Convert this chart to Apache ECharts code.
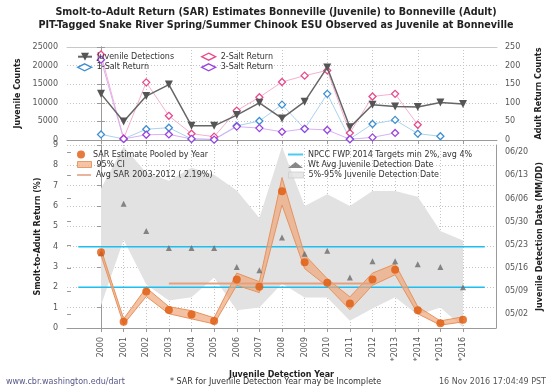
<!DOCTYPE html>
<html><head><meta charset="utf-8">
<script src="https://cdn.jsdelivr.net/npm/echarts@6/dist/echarts.min.js"></script>
<style>html,body{margin:0;padding:0;background:#fff}#c{width:552px;height:390px}</style>
</head><body><div id="c"></div>
<script>
// ---------------- DATA ----------------
const years = ['2000','2001','2002','2003','2004','2005','2006','2007','2008','2009','2010','2011','2012','*2013','*2014','*2015','*2016'];
// top panel
const juvenileDetections = [12400, 5000, 11800, 14900, 3800, 3800, 6700, 10000, 5800, 10300, 19500, 3400, 9500, 9000, 8900, 10100, 9700];
const salt1Return = [15, 3, 29, 33, 3, 2, 38, 51, 95, 30, 124, 3, 43, 54, 17, 10, null];
const salt2Return = [230, 4, 155, 65, 17, 9, 79, 115, 156, 173, 187, 19, 117, 124, 41, null, null];
const salt3Return = [216, 3, 14, 15, 3, 1, 36, 32, 22, 30, 27, 2, 7, 19, null, null, null];
// bottom panel (SAR %)
const sarEstimate = [3.72, 0.31, 1.79, 0.89, 0.67, 0.34, 2.39, 2.03, 6.72, 3.23, 2.23, 1.21, 2.38, 2.87, 0.87, 0.23, 0.41];
const sarCiLow  = [3.58, 0.18, 1.55, 0.70, 0.45, 0.20, 2.10, 1.74, 6.05, 2.92, 2.05, 0.90, 2.10, 2.62, 0.70, 0.14, 0.30];
const sarCiHigh = [3.88, 0.45, 1.98, 1.05, 0.85, 0.50, 2.70, 2.28, 7.40, 3.60, 2.42, 1.53, 2.70, 3.15, 1.05, 0.35, 0.55];
const avgSar = 2.19;
const avgSarYears = ['2003', '2012'];
const npccTargets = [2, 4];
const npccSpan = [-1, 17];
// detection dates as day-of-year (Jan 1 = 1, non-leap)
const wtAvgDetDate = [140.4, 155.4, 147.2, 142.0, 142.0, 142.0, 136.3, 135.3, 145.2, 140.3, 141.2, 133.1, 138.0, 138.0, 137.1, 136.3, 130.1];
const det5pct  = [124.6, 144.5, 131.0, 126.1, 127.1, 133.1, 123.2, 124.0, 131.3, 127.0, 127.0, 120.0, 123.7, 127.1, 121.7, 124.0, 118.0];
const det95pct = [160.0, 172.7, 164.8, 162.4, 166.3, 164.2, 159.4, 151.1, 172.7, 154.7, 158.3, 154.7, 159.3, 159.3, 157.5, 147.2, 144.3];
const dateTickLabels = ['05/02','05/09','05/16','05/23','05/30','06/06','06/13','06/20'];
const dateRange = ['04/28', '06/22'];
const juvTicks = [0, 25000, 5000];
const adultTicks = [0, 250, 50];
const sarTicks = [0, 9, 1];

// ---------------- HELPERS ----------------
const MD = [31,28,31,30,31,30,31,31,30,31,30,31];
function doy(s){ const [m,d] = s.split('/').map(Number); let n = d; for(let i=0;i<m-1;i++) n += MD[i]; return n; }
function mmdd(v){ let n = Math.round(v); let m = 0; while(n > MD[m]){ n -= MD[m]; m++; } return String(m+1).padStart(2,'0') + '/' + String(n).padStart(2,'0'); }

const F = 'DejaVu Sans';
const axisCol = '#9a9a9a';
const gridLine = {show:true, lineStyle:{color:'#c4c4c4', type:[1,2], width:1}};
const lbl = {fontFamily:F, fontSize:8, color:'#555'};
const nameSt = {fontFamily:F, fontSize:8, fontWeight:'bold', color:'#222'};
const plain = v => String(v);

const dateMin = doy(dateRange[0]) - 0.2, dateMax = doy(dateRange[1]) + 0.2;
const L = 67, R = 55, catL = 101, catR = 89;
const topT = 47, topH = 93, botT = 145, botH = 183;
const pxPerDay = botH / (dateMax - dateMin);
const dFirst = doy(dateTickLabels[0]), dLast = doy(dateTickLabels[dateTickLabels.length-1]);
const cT = botT + (dateMax - dLast) * pxPerDay;
const cH = (dLast - dFirst) * pxPerDay;

const i0 = years.indexOf(avgSarYears[0]), i1 = years.indexOf(avgSarYears[1]);
const avgLine = years.map((y,i) => (i >= i0 && i <= i1) ? avgSar : null);
const ciDiff = sarCiHigh.map((v,i) => v - sarCiLow[i]);
const detDiff = det95pct.map((v,i) => v - det5pct[i]);

const hidY = (g, min, max) => ({type:'value', gridIndex:g, min, max, show:false});

function leg(name, left, cy, w, h, extra, keep){
  return {
    data:[Object.assign({name}, extra||{})], left, top: cy - 5, orient:'horizontal',
    itemWidth:w, itemHeight:h, itemGap:0, padding:0, selectedMode:false,
    symbolKeepAspect: keep !== false,
    textStyle:{fontFamily:F, fontSize:8, color:'#333', lineHeight:10}
  };
}
// empty series that only carry a legend entry
const legendOnly = (name) => ({name, type:'scatter', xAxisIndex:4, yAxisIndex:6, data:[]});
const titleSt = {fontFamily:F, fontSize:9.6, fontWeight:'bold', color:'#222', lineHeight:12};

const option = {
  animation:false,
  backgroundColor:'#fff',
  title:[
    {text:'Smolt-to-Adult Return (SAR) Estimates Bonneville (Juvenile) to Bonneville (Adult)', left:'center', top:6.3, padding:0, textStyle:titleSt},
    {text:'PIT-Tagged Snake River Spring/Summer Chinook ESU Observed as Juvenile at Bonneville', left:'center', top:19, padding:0, textStyle:titleSt}
  ],
  graphic:[
    {type:'text', left:6, top:378, style:{text:'www.cbr.washington.edu/dart', font:'8px "DejaVu Sans"', fill:'#56568a'}},
    {type:'text', left:170, top:378, style:{text:'* SAR for Juvenile Detection Year may be Incomplete', font:'8px "DejaVu Sans"', fill:'#333'}},
    {type:'text', right:6, top:378, style:{text:'16 Nov 2016 17:04:49 PST', font:'8px "DejaVu Sans"', fill:'#555'}}
  ],
  legend:[
    leg('Juvenile Detections', 77, 56.7, 14, 10, {itemStyle:{color:'#555'}}),
    leg('1-Salt Return', 77, 67.3, 14, 7, {icon:'diamond', itemStyle:{color:'#fff', borderColor:'#3d8fd1', borderWidth:1.3}}),
    leg('2-Salt Return', 201, 56.7, 14, 7, {icon:'diamond', itemStyle:{color:'#fff', borderColor:'#e84a8c', borderWidth:1.3}}),
    leg('3-Salt Return', 201, 67.3, 14, 7, {icon:'diamond', itemStyle:{color:'#fff', borderColor:'#9a44e0', borderWidth:1.3}}),
    leg('SAR Estimate Pooled by Year', 77, 154.5, 14, 8, {icon:'circle', itemStyle:{color:'#e05a0c'}}),
    leg('95% CI', 77, 164.5, 14, 6, {icon:'rect', itemStyle:{color:'#f2b48e', borderColor:'#e08a50', borderWidth:1}}, false),
    leg('Avg SAR 2003-2012 ( 2.19%)', 77, 175, 14, 2, {icon:'rect', itemStyle:{color:'#e4a182', borderWidth:0}}, false),
    leg('NPCC FWP 2014 Targets min 2%, avg 4%', 288, 154.5, 15, 2, {icon:'rect', itemStyle:{color:'#1cbff0', borderWidth:0}}, false),
    leg('Wt Avg Juvenile Detection Date', 288, 165, 15, 6, {icon:'triangle', itemStyle:{color:'#6b6b6b'}}),
    leg('5%-95% Juvenile Detection Date', 288, 175, 15, 6, {icon:'rect', itemStyle:{color:'#e2e2e2', borderColor:'#d0d0d0', borderWidth:1}}, false)
  ],
  grid:[
    {left:L, right:R, top:topT, height:topH},
    {left:catL, right:catR, top:topT, height:topH},
    {left:L, right:R, top:botT, height:botH},
    {left:catL, right:catR, top:botT, height:botH},
    {left:L, right:R, top:cT, height:cH}
  ],
  xAxis:[
    {type:'value', gridIndex:0, min:-1.5, max:17.5, axisLine:{show:true, onZero:false, lineStyle:{color:axisCol}}, axisTick:{show:false}, axisLabel:{show:false}, splitLine:{show:false}},
    {type:'value', gridIndex:0, position:'top', min:-1.5, max:17.5, axisLine:{show:true, onZero:false, lineStyle:{color:'#c8c8c8'}}, axisTick:{show:false}, axisLabel:{show:false}, splitLine:{show:false}},
    {type:'category', gridIndex:1, data:years, boundaryGap:false, axisLine:{show:false}, axisTick:{show:true, length:4, lineStyle:{color:axisCol}}, axisLabel:{show:false}, splitLine:gridLine},
    {type:'value', gridIndex:2, min:-1.5, max:17.5, axisLine:{show:true, onZero:false, lineStyle:{color:axisCol}}, axisTick:{show:false}, axisLabel:{show:false}, splitLine:{show:false},
      name:'Juvenile Detection Year', nameLocation:'middle', nameGap:42.5, nameTextStyle:nameSt},
    {type:'category', gridIndex:3, data:years, boundaryGap:false, axisLine:{show:false}, axisTick:{show:true, length:4, lineStyle:{color:axisCol}},
      axisLabel:Object.assign({rotate:90, margin:9, interval:0}, lbl), splitLine:gridLine},
    {type:'value', gridIndex:4, min:0, max:1, show:false}
  ],
  yAxis:[
    {type:'value', gridIndex:0, position:'left', min:juvTicks[0], max:juvTicks[1], interval:juvTicks[2],
      axisLine:{show:true, lineStyle:{color:axisCol}}, axisTick:{show:true, length:4, lineStyle:{color:axisCol}},
      axisLabel:Object.assign({margin:9, formatter:plain}, lbl), splitLine:gridLine,
      name:'Juvenile Counts', nameLocation:'middle', nameRotate:90, nameGap:43, nameTextStyle:nameSt},
    {type:'value', gridIndex:0, position:'right', min:adultTicks[0], max:adultTicks[1], interval:adultTicks[2],
      axisLine:{show:true, lineStyle:{color:axisCol}}, axisTick:{show:true, length:4, lineStyle:{color:axisCol}},
      axisLabel:Object.assign({margin:8, formatter:plain}, lbl), splitLine:{show:false},
      name:'Adult Return Counts', nameLocation:'middle', nameRotate:90, nameGap:38, nameTextStyle:nameSt},
    hidY(1, juvTicks[0], juvTicks[1]),
    hidY(1, adultTicks[0], adultTicks[1]),
    {type:'value', gridIndex:2, position:'left', min:sarTicks[0], max:sarTicks[1], interval:sarTicks[2],
      axisLine:{show:true, lineStyle:{color:axisCol}}, axisTick:{show:true, length:4, lineStyle:{color:axisCol}},
      axisLabel:Object.assign({margin:9}, lbl), splitLine:gridLine,
      name:'Smolt-to-Adult Return (%)', nameLocation:'middle', nameRotate:90, nameGap:23, nameTextStyle:nameSt},
    {type:'value', gridIndex:2, position:'right', min:dateMin, max:dateMax,
      axisLine:{show:true, lineStyle:{color:axisCol}}, axisTick:{show:false}, axisLabel:{show:false}, splitLine:{show:false},
      name:'Juvenile Detection Date (MM/DD)', nameLocation:'middle', nameRotate:90, nameGap:40, nameTextStyle:nameSt},
    hidY(3, sarTicks[0], sarTicks[1]),
    hidY(3, dateMin, dateMax),
    {type:'value', gridIndex:4, position:'right', min:dFirst, max:dLast, interval:7,
      axisLine:{show:false}, axisTick:{show:true, length:4, lineStyle:{color:axisCol}},
      axisLabel:Object.assign({margin:8, formatter:(v)=>mmdd(v)}, lbl), splitLine:{show:false}}
  ],
  series:[
    // legend-only entries (drawn as rect / bar icons)
    legendOnly('95% CI'),
    legendOnly('Avg SAR 2003-2012 ( 2.19%)'),
    legendOnly('NPCC FWP 2014 Targets min 2%, avg 4%'),
    legendOnly('5%-95% Juvenile Detection Date'),
    // ---- top panel ----
    {name:'Juvenile Detections', type:'line', xAxisIndex:2, yAxisIndex:2, data:juvenileDetections, symbol:'triangle', symbolRotate:180, symbolSize:8, showAllSymbol:true,
      itemStyle:{color:'#555'}, lineStyle:{color:'#666', width:1.5}, z:4},
    {name:'1-Salt Return', type:'line', xAxisIndex:2, yAxisIndex:3, data:salt1Return, symbol:'diamond', symbolSize:7, showAllSymbol:true,
      itemStyle:{color:'#fff', borderColor:'#3d8fd1', borderWidth:1.3}, lineStyle:{color:'#a9d3ee', width:1}, z:3},
    {name:'2-Salt Return', type:'line', xAxisIndex:2, yAxisIndex:3, data:salt2Return, symbol:'diamond', symbolSize:7, showAllSymbol:true,
      itemStyle:{color:'#fff', borderColor:'#e84a8c', borderWidth:1.3}, lineStyle:{color:'#f7afcf', width:1}, z:3},
    {name:'3-Salt Return', type:'line', xAxisIndex:2, yAxisIndex:3, data:salt3Return, symbol:'diamond', symbolSize:7, showAllSymbol:true,
      itemStyle:{color:'#fff', borderColor:'#9a44e0', borderWidth:1.3}, lineStyle:{color:'#d9b0f5', width:1}, z:3},
    // ---- bottom panel ----
    {name:'det5', type:'line', xAxisIndex:4, yAxisIndex:7, data:det5pct, stack:'det', symbol:'none', lineStyle:{opacity:0}, silent:true, z:1, clip:false},
    {name:'det5-95', type:'line', xAxisIndex:4, yAxisIndex:7, data:detDiff, stack:'det', symbol:'none',
      lineStyle:{opacity:0}, areaStyle:{color:'#e2e2e2', opacity:1}, silent:true, z:1, clip:false},
    {name:'npccMin', type:'line', xAxisIndex:3, yAxisIndex:4, data:npccSpan.map(x=>[x, npccTargets[0]]), symbol:'none',
      lineStyle:{color:'#1cbff0', width:1.5}, z:2},
    {name:'npccAvg', type:'line', xAxisIndex:3, yAxisIndex:4, data:npccSpan.map(x=>[x, npccTargets[1]]), symbol:'none',
      lineStyle:{color:'#1cbff0', width:1.5}, z:2},
    {name:'ciLow', type:'line', xAxisIndex:4, yAxisIndex:6, data:sarCiLow, stack:'ci', symbol:'none', lineStyle:{color:'#e6935e', width:1}, silent:true, z:3},
    {name:'ciHigh', type:'line', xAxisIndex:4, yAxisIndex:6, data:ciDiff, stack:'ci', symbol:'none', lineStyle:{color:'#e6935e', width:1},
      areaStyle:{color:'rgba(240,168,122,0.7)', opacity:1}, z:3},
    {name:'avgSar', type:'line', xAxisIndex:4, yAxisIndex:6, data:avgLine, symbol:'none',
      lineStyle:{color:'#e4a182', width:2}, z:4},
    {name:'Wt Avg Juvenile Detection Date', type:'scatter', xAxisIndex:4, yAxisIndex:7, data:wtAvgDetDate, symbol:'triangle', symbolSize:6,
      itemStyle:{color:'#6b6b6b'}, z:5},
    {name:'SAR Estimate Pooled by Year', type:'scatter', xAxisIndex:4, yAxisIndex:6, data:sarEstimate, symbol:'circle', symbolSize:8,
      itemStyle:{color:'#e05a0c'}, z:6}
  ]
};
const chart = echarts.init(document.getElementById('c'));
chart.setOption(option);
</script>
</body></html>
